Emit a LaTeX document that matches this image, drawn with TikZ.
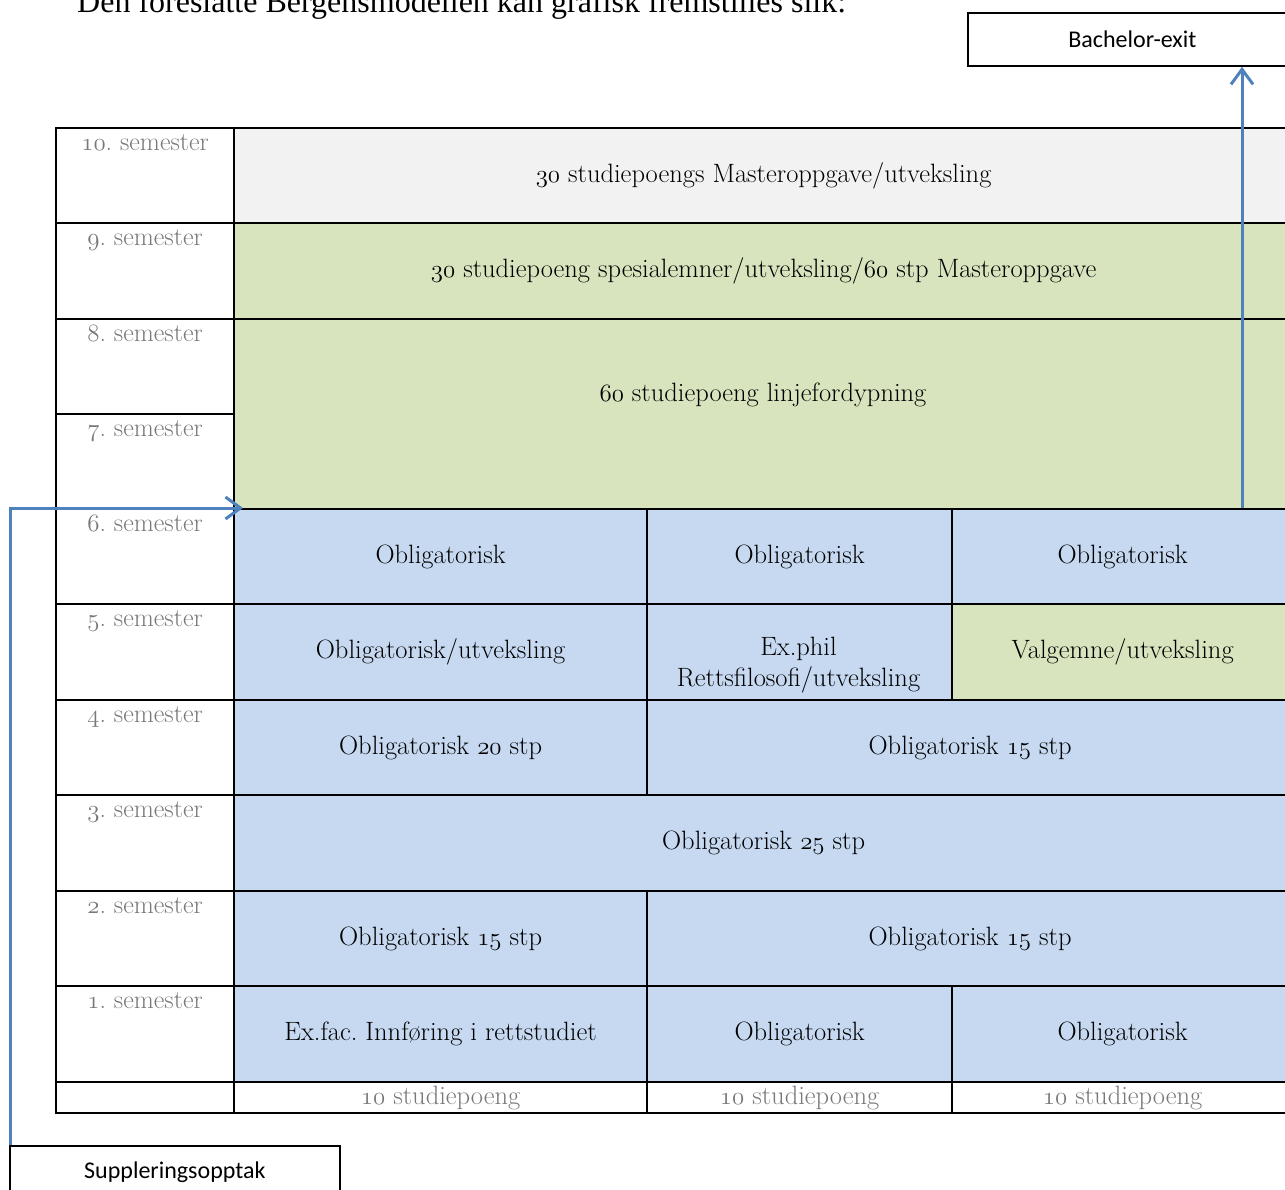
\documentclass[tikz,border=0pt]{standalone}
\usepackage{fontspec}
\newfontfamily\calibrif{Carlito}
\newfontfamily\timesf{Liberation Serif}
\usetikzlibrary{arrows.meta}
\definecolor{cgray}{HTML}{F2F2F2}
\definecolor{cgreen}{HTML}{D7E4BD}
\definecolor{cblue}{HTML}{C6D9F1}
\definecolor{carrow}{HTML}{4F81BD}
\definecolor{clabel}{HTML}{787878}
\newcommand\osf[1]{\legacyoldstylenums{#1}}
\newcommand\mycell[7]{\node[cell, fill=#6, minimum width={(#4-#2)*1pt}, minimum height={(#5-#3)*1pt}] (#1) at (#2,#3) {#7};}
\newcommand\semcell[4]{\node[cell, fill=white, minimum width=178pt, minimum height={(#3-#2)*1pt}] (#1) at (55,#2) {};
  \node[semlabel] (#1t) at ([yshift=-23pt]#1.north) {#4};}
\frenchspacing
\begin{document}
\begin{tikzpicture}[x=1pt,y=-1pt,
  cell/.style={draw=black,line width=2.2pt,inner sep=0pt,anchor=north west,align=center,
    font=\frenchspacing\fontsize{26.5}{31}\selectfont},
  semlabel/.style={anchor=base,text=clabel,font=\frenchspacing\fontsize{26}{30}\selectfont,inner sep=0pt},
  txt/.style={align=center,font=\frenchspacing\fontsize{26.5}{31}\selectfont,inner sep=0pt},
  extbox/.style={draw=black,line width=1.8pt,fill=white,anchor=north west,inner sep=0pt,
    font=\calibrif\fontsize{24}{28}\selectfont},
  arr/.style={draw=carrow,line width=3pt,-{Straight Barb[length=15pt,width=22pt,line width=3pt]}}]
\useasboundingbox (0,0) rectangle (1285,1189);
\clip (0,0) rectangle (1285,1189);
\node[anchor=base west,inner sep=0pt,font=\timesf\fontsize{32}{36}\selectfont] (title) at (77,12)
  {Den foreslåtte Bergensmodellen kan grafisk fremstilles slik:};
% boxes
\node[extbox,minimum width=329pt,minimum height=53pt] (bach) at (967,12) {Bachelor-exit};
\node[extbox,minimum width=330pt,minimum height=53pt] (supp) at (9,1145) {Suppleringsopptak};
% semester column
\semcell{s10}{127}{222}{\osf{10}. semester}
\semcell{s9}{222}{318}{\osf{9}. semester}
\semcell{s8}{318}{413}{\osf{8}. semester}
\semcell{s7}{413}{508}{\osf{7}. semester}
\semcell{s6}{508}{603}{\osf{6}. semester}
\semcell{s5}{603}{699}{\osf{5}. semester}
\semcell{s4}{699}{794}{\osf{4}. semester}
\semcell{s3}{794}{890}{\osf{3}. semester}
\semcell{s2}{890}{985}{\osf{2}. semester}
\semcell{s1}{985}{1081}{\osf{1}. semester}
\node[cell, fill=white, minimum width=178pt, minimum height=31pt] (s0) at (55,1081) {};
% main cells
\mycell{m10}{233}{127}{1292}{222}{cgray}{\osf{30} studiepoengs Masteroppgave/utveksling}
\mycell{m9}{233}{222}{1292}{318}{cgreen}{\osf{30} studiepoeng spesialemner/utveksling/\osf{60} stp Masteroppgave}
\mycell{m87}{233}{318}{1292}{508}{cgreen}{}
\node[txt] (m87t) at (763,395) {\osf{60} studiepoeng linjefordypning};
\mycell{m6a}{233}{508}{646}{603}{cblue}{Obligatorisk}
\mycell{m6b}{646}{508}{951}{603}{cblue}{Obligatorisk}
\mycell{m6c}{951}{508}{1292}{603}{cblue}{Obligatorisk}
\mycell{m5a}{233}{603}{646}{699}{cblue}{Obligatorisk/utveksling}
\mycell{m5b}{646}{603}{951}{699}{cblue}{}
\node[txt] (m5bt) at (798.5,665) {Ex.phil\\Rettsfilosofi/utveksling};
\mycell{m5c}{951}{603}{1292}{699}{cgreen}{Valgemne/utveksling}
\mycell{m4a}{233}{699}{646}{794}{cblue}{Obligatorisk \osf{20} stp}
\mycell{m4b}{646}{699}{1292}{794}{cblue}{Obligatorisk \osf{15} stp}
\mycell{m3}{233}{794}{1292}{890}{cblue}{Obligatorisk \osf{25} stp}
\mycell{m2a}{233}{890}{646}{985}{cblue}{Obligatorisk \osf{15} stp}
\mycell{m2b}{646}{890}{1292}{985}{cblue}{Obligatorisk \osf{15} stp}
\mycell{m1a}{233}{985}{646}{1081}{cblue}{Ex.fac. Innføring i rettstudiet}
\mycell{m1b}{646}{985}{951}{1081}{cblue}{Obligatorisk}
\mycell{m1c}{951}{985}{1292}{1081}{cblue}{Obligatorisk}
\mycell{b1}{233}{1081}{646}{1112}{white}{\textcolor{clabel}{\osf{10} studiepoeng}}
\mycell{b2}{646}{1081}{951}{1112}{white}{\textcolor{clabel}{\osf{10} studiepoeng}}
\mycell{b3}{951}{1081}{1292}{1112}{white}{\textcolor{clabel}{\osf{10} studiepoeng}}
% arrows
\draw[arr] ([xshift=1.5pt]supp.north west) |- ([xshift=10pt]m6a.north west);
\draw[arr] ([xshift=291pt]m6c.north west) -- ([xshift=275pt]bach.south west);
\end{tikzpicture}
\end{document}
